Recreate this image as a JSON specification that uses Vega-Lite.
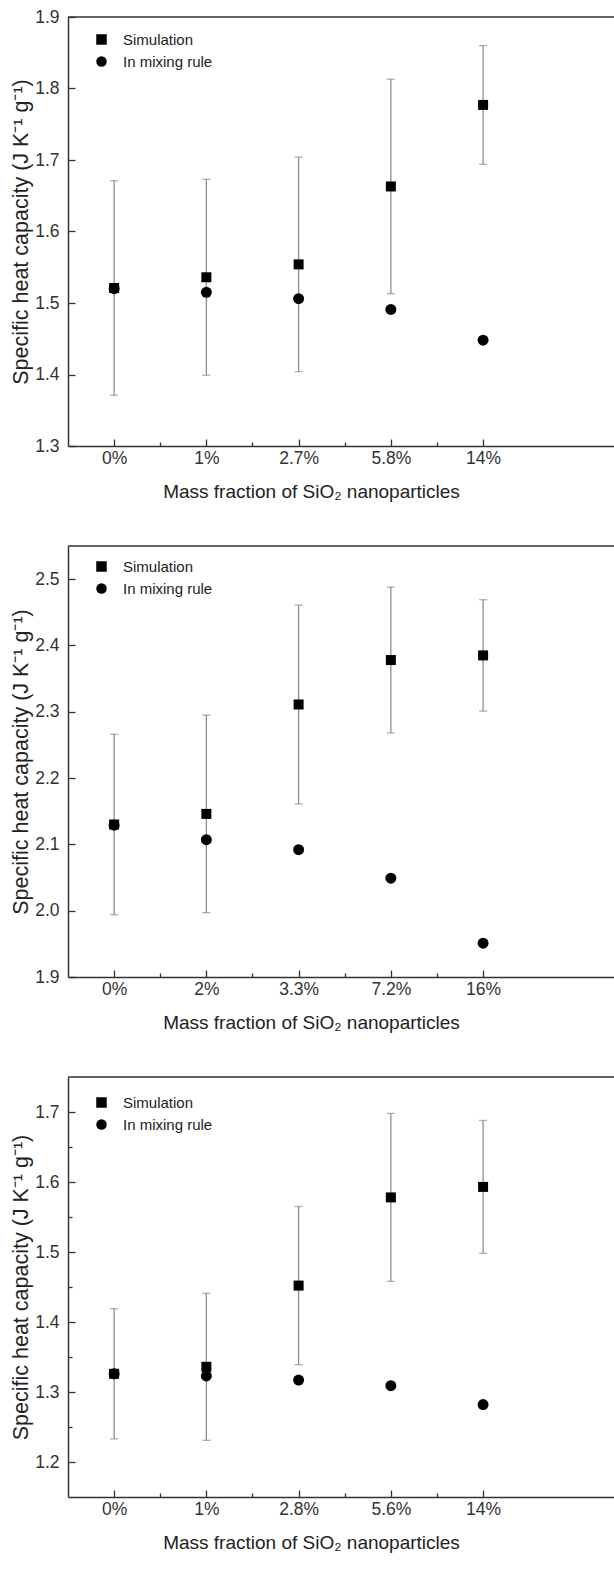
{
  "$schema": "https://vega.github.io/schema/vega-lite/v6.json",
  "padding": {"top": 8, "left": 10, "right": 0, "bottom": 0},
  "background": "white",
  "bounds": "flush",
  "spacing": 100,
  "datasets": {
    "p1": [
      {"idx": 1, "frac": "0%", "sim": 1.521, "err": 0.15, "mix": 1.52},
      {"idx": 2, "frac": "1%", "sim": 1.536, "err": 0.137, "mix": 1.515},
      {"idx": 3, "frac": "2.7%", "sim": 1.554, "err": 0.15, "mix": 1.506},
      {"idx": 4, "frac": "5.8%", "sim": 1.663, "err": 0.15, "mix": 1.491},
      {"idx": 5, "frac": "14%", "sim": 1.777, "err": 0.083, "mix": 1.448}
    ],
    "p2": [
      {"idx": 1, "frac": "0%", "sim": 2.13, "err": 0.136, "mix": 2.129},
      {"idx": 2, "frac": "2%", "sim": 2.146, "err": 0.149, "mix": 2.107},
      {"idx": 3, "frac": "3.3%", "sim": 2.311, "err": 0.15, "mix": 2.092},
      {"idx": 4, "frac": "7.2%", "sim": 2.378, "err": 0.11, "mix": 2.049},
      {"idx": 5, "frac": "16%", "sim": 2.385, "err": 0.084, "mix": 1.951}
    ],
    "p3": [
      {"idx": 1, "frac": "0%", "sim": 1.326, "err": 0.093, "mix": 1.326},
      {"idx": 2, "frac": "1%", "sim": 1.336, "err": 0.105, "mix": 1.323},
      {"idx": 3, "frac": "2.8%", "sim": 1.452, "err": 0.113, "mix": 1.317},
      {"idx": 4, "frac": "5.6%", "sim": 1.578, "err": 0.12, "mix": 1.309},
      {"idx": 5, "frac": "14%", "sim": 1.593, "err": 0.095, "mix": 1.282}
    ]
  },
  "resolve": {
    "scale": {"x": "independent", "y": "independent", "shape": "independent"},
    "axis": {"x": "independent", "y": "independent"},
    "legend": {"shape": "independent"}
  },
  "vconcat": [
    {
      "width": 547,
      "height": 429,
      "data": {"name": "p1"},
      "layer": [
        {
          "data": {"values": [{}]},
          "mark": {"type": "rule", "color": "#333333", "strokeWidth": 1.5},
          "encoding": {"y": {"datum": 1.9, "type": "quantitative", "title": "Specific heat capacity (J K⁻¹ g⁻¹)"}}
        },
        {
          "mark": {"type": "errorbar", "color": "#8c8c8c", "thickness": 1.3, "ticks": {"size": 8, "thickness": 1.3}},
          "encoding": {
            "x": {"field": "idx", "type": "quantitative", "title": "Mass fraction of SiO₂ nanoparticles"},
            "y": {"field": "sim", "type": "quantitative", "title": "Specific heat capacity (J K⁻¹ g⁻¹)"},
            "yError": {"field": "err"}
          }
        },
        {
          "mark": {"type": "point", "filled": true, "size": 100, "color": "black", "opacity": 1},
          "encoding": {
            "x": {"field": "idx", "type": "quantitative", "title": "Mass fraction of SiO₂ nanoparticles"},
            "y": {"field": "sim", "type": "quantitative", "title": "Specific heat capacity (J K⁻¹ g⁻¹)"},
            "shape": {"datum": "Simulation"}
          }
        },
        {
          "mark": {"type": "point", "filled": true, "size": 120, "color": "black", "opacity": 1},
          "encoding": {
            "x": {
              "field": "idx", "type": "quantitative", "title": "Mass fraction of SiO₂ nanoparticles",
              "scale": {"domain": [0.5, 6.43], "nice": false, "zero": false},
              "axis": {
                "values": [1, 1.5, 2, 2.5, 3, 3.5, 4, 4.5, 5],
                "labelExpr": "datum.value % 1 == 0 ? ['0%', '1%', '2.7%', '5.8%', '14%'][datum.value - 1] : ''",
                "tickSize": {"condition": {"test": "datum.value % 1 == 0", "value": -7}, "value": -4}
              }
            },
            "y": {
              "field": "mix", "type": "quantitative", "title": "Specific heat capacity (J K⁻¹ g⁻¹)",
              "scale": {"domain": [1.3, 1.9], "nice": false, "zero": false},
              "axis": {
                "values": [1.3, 1.35, 1.4, 1.45, 1.5, 1.55, 1.6, 1.65, 1.7, 1.75, 1.8, 1.85, 1.9],
                "labelExpr": "abs(datum.value * 10 - round(datum.value * 10)) < 0.01 ? format(datum.value, '.1f') : ''",
                "tickSize": {"condition": {"test": "abs(datum.value * 10 - round(datum.value * 10)) < 0.01", "value": -7}, "value": -4}
              }
            },
            "shape": {
              "datum": "In mixing rule",
              "scale": {"domain": ["Simulation", "In mixing rule"], "range": ["square", "circle"]},
              "legend": {"orient": "none", "legendX": 26, "legendY": 15, "title": null}
            }
          }
        }
      ]
    },
    {
      "width": 547,
      "height": 431,
      "data": {"name": "p2"},
      "layer": [
        {
          "data": {"values": [{}]},
          "mark": {"type": "rule", "color": "#333333", "strokeWidth": 1.5},
          "encoding": {"y": {"datum": 2.55, "type": "quantitative", "title": "Specific heat capacity (J K⁻¹ g⁻¹)"}}
        },
        {
          "mark": {"type": "errorbar", "color": "#8c8c8c", "thickness": 1.3, "ticks": {"size": 8, "thickness": 1.3}},
          "encoding": {
            "x": {"field": "idx", "type": "quantitative", "title": "Mass fraction of SiO₂ nanoparticles"},
            "y": {"field": "sim", "type": "quantitative", "title": "Specific heat capacity (J K⁻¹ g⁻¹)"},
            "yError": {"field": "err"}
          }
        },
        {
          "mark": {"type": "point", "filled": true, "size": 100, "color": "black", "opacity": 1},
          "encoding": {
            "x": {"field": "idx", "type": "quantitative", "title": "Mass fraction of SiO₂ nanoparticles"},
            "y": {"field": "sim", "type": "quantitative", "title": "Specific heat capacity (J K⁻¹ g⁻¹)"},
            "shape": {"datum": "Simulation"}
          }
        },
        {
          "mark": {"type": "point", "filled": true, "size": 120, "color": "black", "opacity": 1},
          "encoding": {
            "x": {
              "field": "idx", "type": "quantitative", "title": "Mass fraction of SiO₂ nanoparticles",
              "scale": {"domain": [0.5, 6.43], "nice": false, "zero": false},
              "axis": {
                "values": [1, 1.5, 2, 2.5, 3, 3.5, 4, 4.5, 5],
                "labelExpr": "datum.value % 1 == 0 ? ['0%', '2%', '3.3%', '7.2%', '16%'][datum.value - 1] : ''",
                "tickSize": {"condition": {"test": "datum.value % 1 == 0", "value": -7}, "value": -4}
              }
            },
            "y": {
              "field": "mix", "type": "quantitative", "title": "Specific heat capacity (J K⁻¹ g⁻¹)",
              "scale": {"domain": [1.9, 2.55], "nice": false, "zero": false},
              "axis": {
                "values": [1.9, 1.95, 2.0, 2.05, 2.1, 2.15, 2.2, 2.25, 2.3, 2.35, 2.4, 2.45, 2.5],
                "labelExpr": "abs(datum.value * 10 - round(datum.value * 10)) < 0.01 ? format(datum.value, '.1f') : ''",
                "tickSize": {"condition": {"test": "abs(datum.value * 10 - round(datum.value * 10)) < 0.01", "value": -7}, "value": -4}
              }
            },
            "shape": {
              "datum": "In mixing rule",
              "scale": {"domain": ["Simulation", "In mixing rule"], "range": ["square", "circle"]},
              "legend": {"orient": "none", "legendX": 26, "legendY": 13, "title": null}
            }
          }
        }
      ]
    },
    {
      "width": 547,
      "height": 420,
      "data": {"name": "p3"},
      "layer": [
        {
          "data": {"values": [{}]},
          "mark": {"type": "rule", "color": "#333333", "strokeWidth": 1.5},
          "encoding": {"y": {"datum": 1.75, "type": "quantitative", "title": "Specific heat capacity (J K⁻¹ g⁻¹)"}}
        },
        {
          "mark": {"type": "errorbar", "color": "#8c8c8c", "thickness": 1.3, "ticks": {"size": 8, "thickness": 1.3}},
          "encoding": {
            "x": {"field": "idx", "type": "quantitative", "title": "Mass fraction of SiO₂ nanoparticles"},
            "y": {"field": "sim", "type": "quantitative", "title": "Specific heat capacity (J K⁻¹ g⁻¹)"},
            "yError": {"field": "err"}
          }
        },
        {
          "mark": {"type": "point", "filled": true, "size": 100, "color": "black", "opacity": 1},
          "encoding": {
            "x": {"field": "idx", "type": "quantitative", "title": "Mass fraction of SiO₂ nanoparticles"},
            "y": {"field": "sim", "type": "quantitative", "title": "Specific heat capacity (J K⁻¹ g⁻¹)"},
            "shape": {"datum": "Simulation"}
          }
        },
        {
          "mark": {"type": "point", "filled": true, "size": 120, "color": "black", "opacity": 1},
          "encoding": {
            "x": {
              "field": "idx", "type": "quantitative", "title": "Mass fraction of SiO₂ nanoparticles",
              "scale": {"domain": [0.5, 6.43], "nice": false, "zero": false},
              "axis": {
                "values": [1, 1.5, 2, 2.5, 3, 3.5, 4, 4.5, 5],
                "labelExpr": "datum.value % 1 == 0 ? ['0%', '1%', '2.8%', '5.6%', '14%'][datum.value - 1] : ''",
                "tickSize": {"condition": {"test": "datum.value % 1 == 0", "value": -7}, "value": -4}
              }
            },
            "y": {
              "field": "mix", "type": "quantitative", "title": "Specific heat capacity (J K⁻¹ g⁻¹)",
              "scale": {"domain": [1.15, 1.75], "nice": false, "zero": false},
              "axis": {
                "values": [1.2, 1.25, 1.3, 1.35, 1.4, 1.45, 1.5, 1.55, 1.6, 1.65, 1.7],
                "labelExpr": "abs(datum.value * 10 - round(datum.value * 10)) < 0.01 ? format(datum.value, '.1f') : ''",
                "tickSize": {"condition": {"test": "abs(datum.value * 10 - round(datum.value * 10)) < 0.01", "value": -7}, "value": -4}
              }
            },
            "shape": {
              "datum": "In mixing rule",
              "scale": {"domain": ["Simulation", "In mixing rule"], "range": ["square", "circle"]},
              "legend": {"orient": "none", "legendX": 26, "legendY": 18, "title": null}
            }
          }
        }
      ]
    }
  ],
  "config": {
    "view": {"stroke": null},
    "font": "Liberation Sans",
    "axis": {
      "grid": false,
      "domainColor": "#333333",
      "domainWidth": 1.5,
      "tickColor": "#333333",
      "tickWidth": 1.3,
      "labelFont": "Liberation Sans",
      "labelFontSize": 17.5,
      "labelColor": "#333333",
      "titleFont": "Liberation Sans",
      "titleFontWeight": "normal",
      "titleColor": "#222222"
    },
    "axisX": {"labelPadding": 10, "titlePadding": 13, "titleFontSize": 19, "titleX": 243, "titleAlign": "center", "labelFlush": false, "labelOverlap": false},
    "axisY": {"labelPadding": 16, "titlePadding": 2, "titleFontSize": 21.5, "labelOverlap": false},
    "legend": {
      "labelFont": "Liberation Sans",
      "labelFontSize": 15,
      "labelColor": "#222222",
      "symbolSize": 110,
      "symbolFillColor": "black",
      "symbolStrokeColor": "black",
      "symbolStrokeWidth": 0,
      "rowPadding": 6,
      "labelOffset": 14
    }
  }
}
